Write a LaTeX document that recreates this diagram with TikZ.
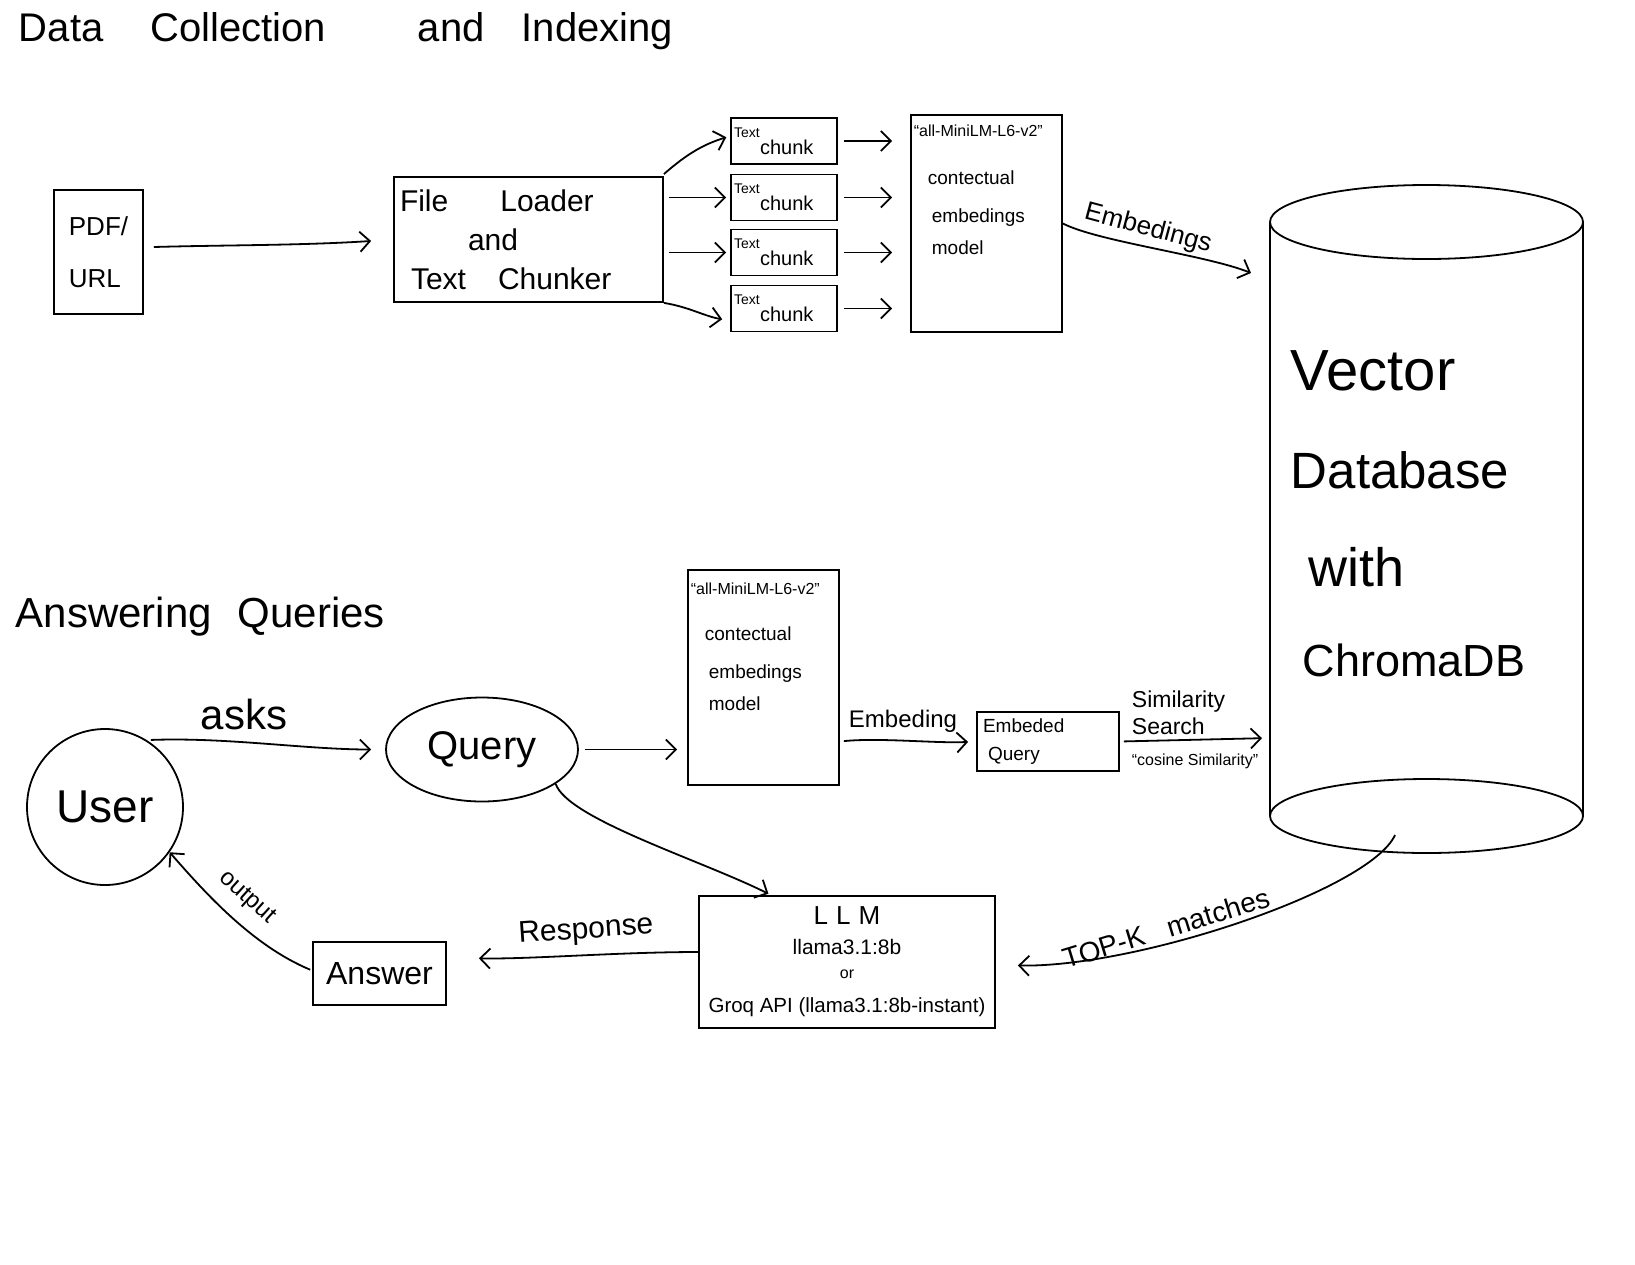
\documentclass[tikz,border=0pt]{standalone}
\usepackage{fontspec}
\setmainfont{Liberation Sans}
\usetikzlibrary{arrows.meta,shapes.geometric}
\newcommand{\fsz}[2]{\fontsize{#1pt}{#2pt}\selectfont}
\begin{document}
\begin{tikzpicture}[x=1pt,y=-1pt,line width=1.8pt,
  box/.style={draw,rectangle,inner sep=2pt},
  arr/.style={-{Straight Barb[length=10pt,width=20pt]}},
  lbl/.style={inner sep=0pt}]
\fill[white] (0,0) rectangle (1635,1264);
\useasboundingbox (0,0) rectangle (1635,1264);

% section headings
\node[lbl,anchor=west,font=\fsz{40}{48}] (title) at (18,31)
  {Data\hspace*{47pt}Collection\hspace*{92pt}and\hspace*{37pt}Indexing};
\node[lbl,anchor=west,font=\fsz{42}{48}] (title2) at (15,617)
  {Answering\hspace*{26pt}Queries};

% ---------- indexing pipeline ----------
\node[box,minimum width=89pt,minimum height=124pt,align=left,font=\fsz{26}{52}] (pdf) at (98.5,252) {PDF/\\URL};
\node[box,minimum width=269pt,minimum height=125pt,text width=257pt,inner sep=6pt,align=left,font=\fsz{30}{39}] (file) at (528.5,239.5)
  {File\hspace*{52pt}Loader\\\hspace*{68pt}and\\\hspace*{11pt}Text\hspace*{32pt}Chunker};

\foreach \n/\yy in {c1/141,c2/197.5,c3/252.5,c4/308.5}{
  \node[box,minimum width=106pt,minimum height=46pt,text width=100pt,inner sep=3pt,align=left,font=\fsz{14}{17}] (\n) at (784,\yy)
    {Text\\\hspace*{26pt}{\fsz{20}{20}chunk}};
}

\node[box,minimum width=151pt,minimum height=217pt] (m1) at (986.5,223.5) {};
\node[lbl,anchor=north west,align=left,font=\fsz{19}{38}] (m1t) at (913,124)
  {{\fsz{16}{16}“all-MiniLM-L6-v2”}\\[10pt]\hspace*{14pt}contectual\\\hspace*{18pt}embedings\\[-6pt]\hspace*{18pt}model};

% vector database cylinder
\draw (1270,222) -- (1270,816);
\draw (1583,222) -- (1583,816);
\draw (1426.5,222) ellipse [x radius=156.5,y radius=37];
\draw (1426.5,816) ellipse [x radius=156.5,y radius=37];
\node[lbl,anchor=west,align=left,font=\fsz{54}{98}] (dbtext) at (1290,514)
  {{\fsz{58}{98}Vector}\\{\fsz{51}{98}Database}\\\hspace*{18pt}with\\[-8pt]\hspace*{12pt}{\fsz{45}{98}ChromaDB}};
\coordinate (dbin) at (1251,273);
\coordinate (dbsim) at (1270,738);
\coordinate (dbout) at (1395,835);

% indexing connectors
\draw[arr,shorten >=22pt] ([xshift=10pt,yshift=5pt]pdf.east) .. controls +(70,-2) and +(-90,6) .. (file.west);
\draw[arr,shorten >=4pt] ([yshift=2pt]file.north east) .. controls +(25,-22) and +(-25,8) .. ([yshift=5pt]c1.west);
\draw[arr,shorten <=5pt,shorten >=4pt] (file.east |- c2.west) -- (c2.west);
\draw[arr,shorten <=5pt,shorten >=4pt] (file.east |- c3.west) -- (c3.west);
\draw[arr,shorten >=8pt] (file.south east) .. controls +(25,4) and +(-25,-4) .. ([yshift=-12pt]c4.west);
\foreach \n in {c1,c2,c3,c4}{
  \draw[arr,shorten <=6pt,shorten >=18pt] (\n.east) -- (m1.west |- \n.east);
}
\draw[arr] (m1.east) .. controls +(35,18) and +(-45,-18) .. (dbin);
\node[lbl,font=\fsz{26}{26},rotate=-15] (embl) at (1148,229) {Embedings};

% ---------- query pipeline ----------
\node[draw,circle,minimum size=156pt,inner sep=0pt,font=\fsz{46}{46}] (user) at (105,807) {User};
\node[draw,ellipse,minimum width=192pt,minimum height=104pt,inner sep=0pt,font=\fsz{40}{40}] (query) at (482,749.5) {Query};
\node[box,minimum width=151pt,minimum height=215pt] (m2) at (763.5,677.5) {};
\node[lbl,anchor=north west,align=left,font=\fsz{19}{38}] (m2t) at (690,582)
  {{\fsz{16}{16}“all-MiniLM-L6-v2”}\\[8pt]\hspace*{14pt}contectual\\\hspace*{18pt}embedings\\[-6pt]\hspace*{18pt}model};
\node[box,minimum width=142pt,minimum height=59pt,text width=130pt,inner sep=4pt,align=left,font=\fsz{19}{28}] (eq) at (1048,741.5) {Embeded\\\hspace*{5pt}Query};
\node[box,minimum width=296pt,minimum height=132pt,align=center,font=\fsz{21}{30}] (llm) at (847,962)
  {{\fsz{26}{28}L\hspace*{8pt}L\hspace*{8pt}M}\\llama3.1:8b\\[-6pt]{\fsz{16}{22}or}\\[4pt]{\fsz{20.5}{26}Groq API (llama3.1:8b-instant)}};
\node[box,minimum width=133pt,minimum height=63pt,font=\fsz{32}{32}] (ans) at (379.5,973.5) {Answer};

% query connectors
\draw[arr,shorten <=4pt,shorten >=14pt] (user.58) .. controls +(80,-3) and +(-80,0) .. (query.west);
\node[lbl,font=\fsz{42}{42}] (asksl) at (244,714) {asks};
\draw[arr,shorten <=6pt,shorten >=10pt] (query.east) -- (m2.west |- query.east);
\draw[arr,shorten <=4pt,shorten >=8pt] (m2.east |- eq.west) .. controls +(40,-4) and +(-40,2) .. (eq.west);
\node[lbl,font=\fsz{24}{24}] (embgl) at (903,721) {Embeding};
\draw[arr,shorten <=4pt,shorten >=8pt] (eq.east) -- (dbsim);
\node[lbl,anchor=west,align=left,font=\fsz{23}{27}] (siml) at (1131,713) {Similarity\\Search};
\node[lbl,font=\fsz{16}{16}] (cosl) at (1195,761) {“cosine Similarity”};
\draw[arr,shorten >=3pt] (query.-25) .. controls +(12,35) and +(-70,-35) .. ([xshift=73pt]llm.north west);
\draw[arr,shorten >=22pt] (dbout) .. controls +(-25,55) and +(140,3) .. ([yshift=-3pt]llm.east);
\node[lbl,font=\fsz{28}{28},rotate=17] (topl) at (1166,928) {TOP-K\hspace*{24pt}matches};
\draw[arr,shorten >=32pt] ([yshift=10pt]llm.west) .. controls +(-80,0) and +(80,2) .. ([yshift=16pt]ans.east);
\node[lbl,font=\fsz{30}{30},rotate=4] (respl) at (586,931) {Response};
\draw[arr,shorten <=2pt] ([yshift=3pt]ans.west) .. controls +(-60,-25) and +(35,40) .. (user.-35);
\node[lbl,font=\fsz{24}{24},rotate=-42] (outl) at (247,898) {output};
\end{tikzpicture}
\end{document}
